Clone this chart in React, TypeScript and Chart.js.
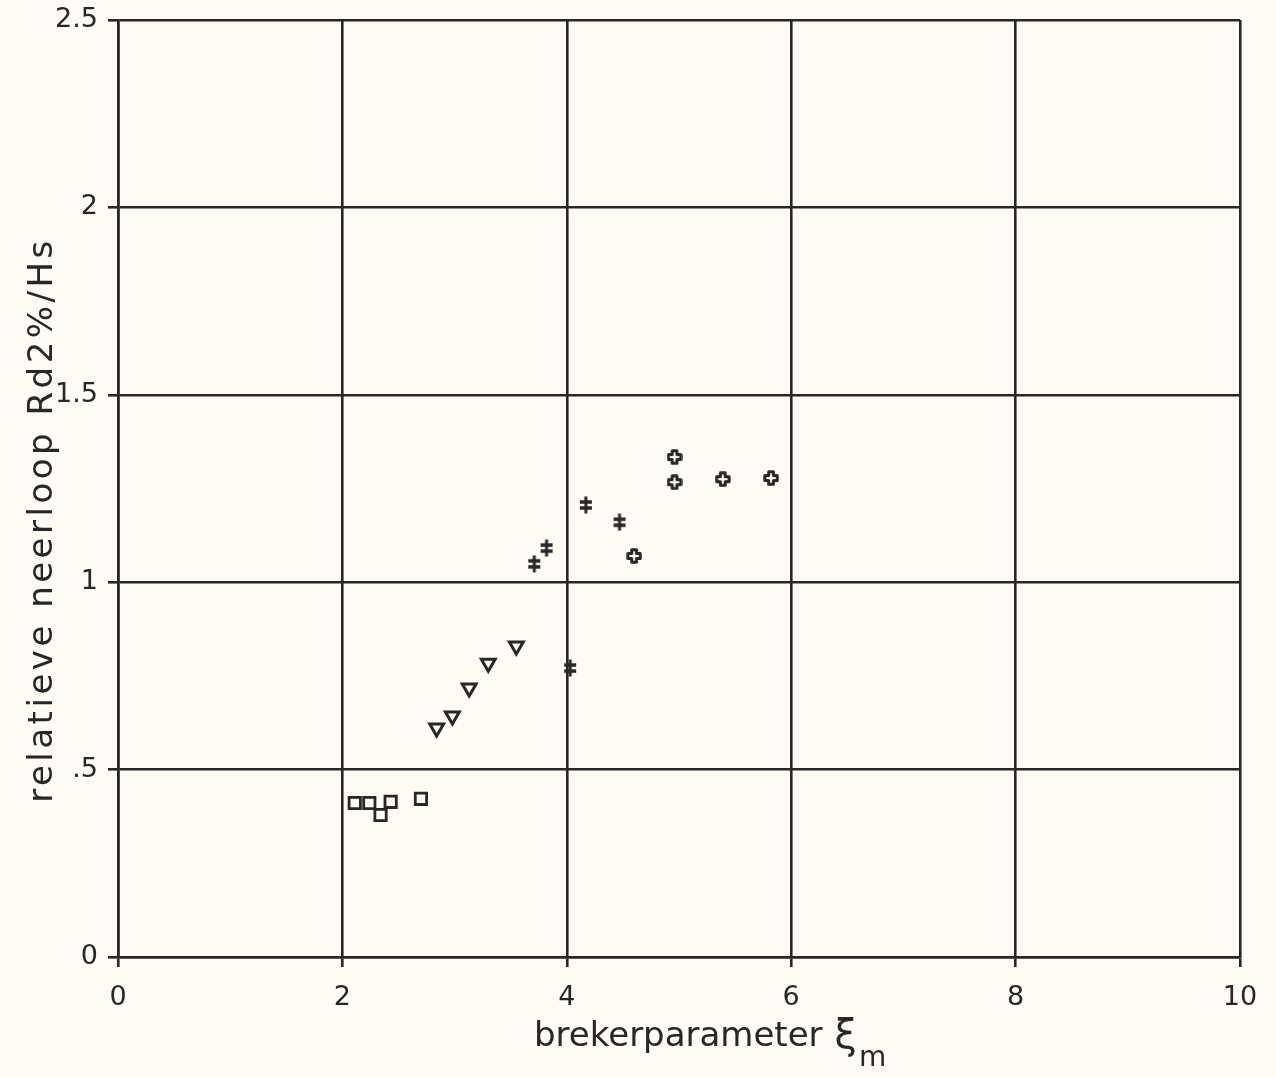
import { useEffect, useRef } from "react";
import { Chart, registerables } from "chart.js";
Chart.register(...registerables);

// data
const squareX = [2.11, 2.24, 2.34, 2.43, 2.7];
const squareY = [0.411, 0.411, 0.379, 0.414, 0.422];
const triangleX = [2.84, 2.98, 3.13, 3.3, 3.55];
const triangleY = [0.611, 0.643, 0.718, 0.784, 0.83];
const hashX = [3.71, 3.82, 4.03, 4.17, 4.47];
const hashY = [1.049, 1.091, 0.771, 1.206, 1.16];
const crossX = [4.6, 4.96, 4.96, 5.39, 5.82];
const crossY = [1.07, 1.267, 1.334, 1.275, 1.278];
const xTicks = [0, 2, 4, 6, 8, 10];
const xTickLabels = ["0", "2", "4", "6", "8", "10"];
const yTicks = [0, 0.5, 1, 1.5, 2, 2.5];
const yTickLabels = ["0", ".5", "1", "1.5", "2", "2.5"];

const INK = "#2b2527";
const PAPER = "#fcfbf5";
const FONT = "'DejaVu Sans', sans-serif";

function pts(xs: number[], ys: number[]) {
  return xs.map((x, i) => ({ x, y: ys[i] }));
}

function makeHash(): HTMLCanvasElement {
  const c = document.createElement("canvas");
  c.width = 14;
  c.height = 18;
  const g = c.getContext("2d")!;
  g.strokeStyle = INK;
  g.lineCap = "butt";
  g.lineWidth = 3;
  g.beginPath();
  g.moveTo(7, 0.5);
  g.lineTo(7, 17.5);
  g.stroke();
  g.lineWidth = 3.5;
  g.beginPath();
  g.moveTo(1, 6);
  g.lineTo(13, 6);
  g.moveTo(1, 12);
  g.lineTo(13, 12);
  g.stroke();
  return c;
}

function makeCross(): HTMLCanvasElement {
  const c = document.createElement("canvas");
  c.width = 16;
  c.height = 16;
  const g = c.getContext("2d")!;
  g.strokeStyle = INK;
  g.lineWidth = 3;
  g.lineJoin = "round";
  const a = 1.8, b = 5.6, e = 10.4, f = 14.2;
  g.beginPath();
  g.moveTo(b, a);
  g.lineTo(e, a);
  g.lineTo(e, b);
  g.lineTo(f, b);
  g.lineTo(f, e);
  g.lineTo(e, e);
  g.lineTo(e, f);
  g.lineTo(b, f);
  g.lineTo(b, e);
  g.lineTo(a, e);
  g.lineTo(a, b);
  g.lineTo(b, b);
  g.closePath();
  g.stroke();
  return c;
}

export default function App() {
  const ref = useRef<HTMLCanvasElement | null>(null);

  useEffect(() => {
    if (!ref.current) return;
    const hash = makeHash();
    const cross = makeCross();

    const bg = {
      id: "bg",
      beforeDraw(chart: any) {
        const ctx = chart.ctx;
        ctx.save();
        ctx.fillStyle = PAPER;
        ctx.fillRect(0, 0, chart.width, chart.height);
        ctx.restore();
      },
    };

    const titles = {
      id: "titles",
      afterDraw(chart: any) {
        const ctx = chart.ctx;
        ctx.save();
        ctx.fillStyle = INK;
        ctx.textBaseline = "alphabetic";
        // x title
        ctx.font = `34px ${FONT}`;
        ctx.textAlign = "left";
        const main = "brekerparameter";
        let x = 534;
        const base = 1046;
        ctx.fillText(main, x, base);
        x = Math.max(x + ctx.measureText(main).width + 12, 830);
        ctx.font = `40px ${FONT}`;
        ctx.fillText("ξ", x, base + 2);
        x += ctx.measureText("ξ").width + 2;
        ctx.font = `28px ${FONT}`;
        ctx.fillText("m", x, base + 20);
        // y title
        ctx.translate(52, 520);
        ctx.rotate(-Math.PI / 2);
        ctx.font = `34px ${FONT}`;
        (ctx as any).letterSpacing = "3.5px";
        ctx.textAlign = "center";
        ctx.fillText("relatieve neerloop Rd2%/Hs", 0, 0);
        ctx.restore();
      },
    };

    const chart = new Chart(ref.current, {
      type: "scatter",
      data: {
        datasets: [
          {
            label: "squares",
            data: pts(squareX, squareY),
            pointStyle: "rect",
            pointRadius: 8,
            borderColor: INK,
            backgroundColor: "rgba(0,0,0,0)",
            borderWidth: 2.8,
          },
          {
            label: "triangles",
            data: pts(triangleX, triangleY),
            pointStyle: "triangle",
            rotation: 180,
            pointRadius: 8,
            borderColor: INK,
            backgroundColor: "rgba(0,0,0,0)",
            borderWidth: 3,
          },
          {
            label: "hash",
            data: pts(hashX, hashY),
            pointStyle: hash as any,
            pointRadius: 8,
          },
          {
            label: "cross",
            data: pts(crossX, crossY),
            pointStyle: cross as any,
            pointRadius: 8,
          },
        ],
      },
      options: {
        animation: false,
        responsive: false,
        layout: { padding: { top: 20, right: 36, left: 0, bottom: 0 } },
        plugins: {
          legend: { display: false },
          tooltip: { enabled: false },
        },
        scales: {
          x: {
            type: "linear",
            min: 0,
            max: 10,
            afterBuildTicks: (s: any) => {
              s.ticks = xTicks.map((v) => ({ value: v }));
            },
            afterFit: (s: any) => {
              s.height = 121;
              s.paddingLeft = 0;
              s.paddingRight = 0;
              s.paddingTop = 0;
              s.paddingBottom = 0;
            },
            ticks: {
              autoSkip: false,
              maxRotation: 0,
              padding: 15,
              color: INK,
              font: { family: FONT, size: 27 },
              callback: (v: any) => xTickLabels[xTicks.indexOf(Number(v))] ?? "",
            },
            grid: { color: INK, lineWidth: 2.6, tickLength: 10, drawTicks: true },
            border: { display: true, color: INK, width: 2.6 },
          },
          y: {
            type: "linear",
            min: 0,
            max: 2.5,
            afterBuildTicks: (s: any) => {
              s.ticks = yTicks.map((v) => ({ value: v }));
            },
            afterFit: (s: any) => {
              s.width = 118;
              s.paddingLeft = 0;
              s.paddingRight = 0;
              s.paddingTop = 0;
              s.paddingBottom = 0;
            },
            ticks: {
              autoSkip: false,
              padding: 10,
              color: INK,
              font: { family: FONT, size: 27 },
              callback: (v: any) => yTickLabels[yTicks.indexOf(Number(v))] ?? "",
            },
            grid: { color: INK, lineWidth: 2.6, tickLength: 10, drawTicks: true },
            border: { display: true, color: INK, width: 2.6 },
          },
        },
      },
      plugins: [bg, titles],
    });
    return () => chart.destroy();
  }, []);

  return (
    <div
      style={{
        position: "fixed",
        left: 0,
        top: 0,
        width: 1276,
        height: 1078,
        background: PAPER,
      }}
    >
      <canvas ref={ref} width={1276} height={1078} style={{ display: "block" }} />
    </div>
  );
}
